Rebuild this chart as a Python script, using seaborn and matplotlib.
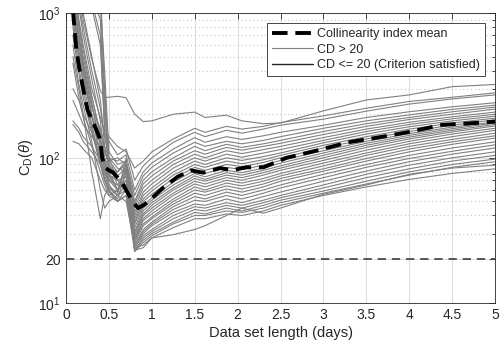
import numpy as np
import pandas as pd
import matplotlib
matplotlib.use("Agg")
import matplotlib.pyplot as plt
import seaborn as sns
from matplotlib.lines import Line2D
from matplotlib.ticker import FixedLocator, NullFormatter

X_DAYS = [0.08, 0.15, 0.2, 0.3, 0.4, 0.45, 0.5, 0.6, 0.7, 0.8,
          0.9, 1.0, 1.25, 1.5, 1.62, 1.87, 2.05, 2.3, 2.5, 3.0, 3.5, 4.0, 4.5, 5.0]

# one row per parameter subset, values of C_D(theta) at X_DAYS
CURVES = [
    [2500, 1400, 900, 480, 290, 262, 262, 266, 260, 200, 178, 180, 200, 207, 190, 197, 180, 172, 174, 211, 251, 272, 310, 321],
    [3000, 2000, 1500, 1100, 600, 160, 140, 120, 110, 85, 95, 110, 135, 160, 150, 165, 158, 165, 175, 195, 220, 245, 262, 281],
    [1800, 900, 600, 300, 190, 150, 130, 105, 115, 70, 88, 100, 128, 150, 140, 155, 148, 158, 168, 185, 210, 235, 255, 272],
    [1200, 650, 420, 220, 160, 120, 100, 95, 105, 60, 80, 92, 115, 138, 128, 140, 134, 142, 150, 168, 190, 208, 225, 240],
    [4000, 3000, 2500, 1500, 1200, 400, 110, 90, 95, 55, 75, 86, 108, 128, 120, 130, 125, 132, 140, 160, 180, 198, 216, 231],
    [900, 500, 350, 200, 130, 110, 95, 100, 90, 50, 70, 80, 100, 120, 112, 124, 118, 125, 132, 152, 172, 190, 208, 224],
    [250, 200, 170, 140, 120, 100, 85, 80, 95, 48, 66, 75, 95, 112, 106, 118, 113, 120, 126, 145, 165, 184, 200, 217],
    [1500, 800, 500, 260, 150, 110, 90, 75, 85, 45, 62, 70, 90, 106, 100, 112, 107, 114, 120, 138, 158, 176, 192, 207],
    [3000, 2200, 1600, 1200, 700, 150, 95, 80, 90, 42, 58, 66, 85, 100, 95, 106, 101, 108, 114, 132, 152, 170, 186, 200],
    [700, 380, 260, 150, 90, 80, 70, 80, 95, 40, 55, 62, 80, 95, 90, 100, 96, 102, 108, 127, 146, 164, 180, 194],
    [180, 160, 140, 120, 95, 80, 70, 65, 80, 38, 52, 59, 76, 90, 86, 95, 91, 97, 104, 122, 140, 158, 174, 188],
    [2200, 1200, 800, 400, 220, 140, 100, 70, 75, 36, 50, 56, 72, 86, 82, 90, 87, 93, 100, 117, 135, 152, 168, 183],
    [5000, 4000, 3500, 2500, 1500, 300, 100, 85, 80, 35, 47, 53, 68, 82, 78, 86, 83, 89, 96, 112, 130, 147, 163, 177],
    [1000, 550, 380, 190, 110, 90, 80, 60, 70, 33, 45, 51, 65, 78, 74, 82, 79, 85, 92, 108, 126, 143, 159, 174],
    [300, 250, 200, 150, 100, 85, 75, 70, 65, 31, 43, 49, 62, 75, 71, 79, 76, 82, 88, 104, 122, 139, 155, 170],
    [1400, 700, 450, 230, 130, 95, 70, 60, 75, 30, 41, 47, 60, 72, 69, 76, 73, 79, 85, 100, 118, 135, 151, 166],
    [2500, 1500, 1000, 500, 250, 120, 85, 70, 65, 29, 40, 45, 57, 69, 66, 73, 70, 76, 82, 96, 113, 130, 146, 160],
    [130, 125, 115, 100, 70, 60, 55, 60, 70, 28, 38, 43, 55, 66, 63, 70, 67, 72, 78, 92, 108, 125, 140, 155],
    [600, 320, 230, 130, 60, 45, 50, 55, 65, 27, 37, 41, 52, 63, 60, 67, 64, 69, 75, 88, 104, 120, 134, 148],
    [3500, 2500, 2000, 1300, 900, 200, 90, 65, 60, 27, 35, 39, 50, 60, 58, 64, 61, 66, 72, 84, 99, 115, 129, 142],
    [800, 420, 290, 160, 90, 70, 60, 50, 55, 26, 34, 38, 48, 57, 55, 61, 58, 63, 69, 81, 95, 110, 124, 137],
    [500, 300, 200, 80, 38, 55, 62, 55, 60, 25, 32, 36, 46, 54, 52, 58, 55, 60, 65, 77, 90, 104, 117, 129],
    [1600, 850, 550, 270, 140, 90, 65, 55, 50, 25, 31, 35, 44, 51, 50, 55, 52, 57, 62, 73, 86, 99, 111, 123],
    [2000, 1100, 700, 350, 180, 100, 75, 60, 70, 24, 30, 34, 42, 48, 47, 52, 49, 54, 58, 69, 81, 94, 106, 117],
    [450, 260, 190, 120, 80, 65, 55, 50, 60, 24, 29, 32, 40, 46, 45, 49, 47, 51, 55, 65, 77, 89, 100, 110],
    [1100, 600, 400, 200, 100, 70, 60, 52, 80, 23, 28, 31, 38, 44, 43, 47, 45, 49, 53, 62, 73, 84, 95, 104],
    [4500, 3500, 3000, 2000, 1300, 250, 80, 60, 90, 23, 27, 30, 36, 42, 41, 45, 43, 47, 51, 59, 69, 80, 90, 98],
    [170, 150, 130, 110, 90, 70, 58, 50, 55, 22.5, 26, 29, 35, 40, 40, 43, 42, 45, 49, 57, 66, 76, 86, 94],
    [1300, 700, 460, 240, 120, 80, 65, 55, 100, 24, 25, 28, 33, 38, 38, 41, 40, 43, 47, 55, 63, 71, 78, 84],
    [900, 480, 330, 170, 95, 75, 62, 58, 85, 23, 24, 28, 29.5, 32, 34, 40, 45, 41.5, 45, 56, 65, 77, 85, 89],
]

# dashed mean curve
MEAN_X = [0.08, 0.12, 0.15, 0.2, 0.25, 0.3, 0.35, 0.4, 0.42, 0.45, 0.5, 0.55, 0.65, 0.72,
          0.8, 0.84, 0.9, 0.96, 1.13, 1.3, 1.45, 1.6, 1.8, 1.93, 2.1, 2.3, 2.57, 2.94,
          3.29, 3.66, 4.0, 4.39, 4.77, 5.0]
MEAN_Y = [1050, 560, 430, 300, 215, 183, 158, 133, 101, 86, 82, 79, 68, 57,
          48, 45, 47, 50, 62, 74, 82, 79, 85, 82, 86, 86, 100, 113,
          128, 139, 151, 169, 174, 178]

CRITERION = 20
X_TICKS = [0, 0.5, 1, 1.5, 2, 2.5, 3, 3.5, 4, 4.5, 5]
X_TICK_LABELS = ["0", "0.5", "1", "1.5", "2", "2.5", "3", "3.5", "4", "4.5", "5"]
Y_TICKS = [10, 20, 100, 1000]
Y_TICK_LABELS = [r"$10^1$", "20", r"$10^2$", r"$10^3$"]

sns.set_theme(style="white")
plt.rcParams["font.family"] = ["Liberation Sans", "DejaVu Sans"]
plt.rcParams["mathtext.fontset"] = "custom"
plt.rcParams["mathtext.rm"] = "Liberation Sans"
plt.rcParams["mathtext.it"] = "Liberation Sans:italic"

rows = []
for i, vals in enumerate(CURVES):
    for x, v in zip(X_DAYS, vals):
        rows.append({"curve": i, "days": x, "cd": v})
df = pd.DataFrame(rows)

fig = plt.figure(figsize=(5.04, 3.51), dpi=100)
ax = fig.add_axes([0.131, 0.1376, 0.8512, 0.8254])

sns.lineplot(data=df, x="days", y="cd", units="curve", estimator=None,
             color="#808080", lw=0.8, ax=ax, legend=False)
sns.lineplot(x=MEAN_X, y=MEAN_Y, color="black", lw=2.8,
             linestyle=(0, (4, 2)), ax=ax, legend=False)
ax.axhline(CRITERION, color="#3c3c3c", lw=1.2, ls=(0, (5, 3.5)), zorder=3)

ax.set_yscale("log")
ax.set_xlim(0, 5)
ax.set_ylim(10, 1000)

ax.xaxis.set_major_locator(FixedLocator(X_TICKS))
ax.set_xticklabels(X_TICK_LABELS)
ax.yaxis.set_major_locator(FixedLocator(Y_TICKS))
ax.set_yticklabels(Y_TICK_LABELS)
minor = [30, 40, 50, 60, 70, 80, 90, 200, 300, 400, 500, 600, 700, 800, 900]
ax.yaxis.set_minor_locator(FixedLocator(minor))
ax.yaxis.set_minor_formatter(NullFormatter())

ax.grid(which="major", color="#dedede", lw=0.8, ls="-")
ax.grid(which="minor", axis="y", color="#c8c8c8", lw=0.8, ls=(0, (1, 2.5)))
ax.set_axisbelow(True)

ax.tick_params(which="both", direction="in", top=True, right=True,
               colors="#262626", labelsize=10, width=0.6)
ax.tick_params(which="major", length=4, pad=4)
ax.tick_params(which="minor", length=2)
for s in ax.spines.values():
    s.set_color("#262626")
    s.set_linewidth(0.6)

ax.set_xlabel("Data set length (days)", fontsize=10.5, color="#262626", labelpad=3)
ax.set_ylabel(r"C$_\mathrm{D}$($\theta$)", fontsize=10.5, color="#262626", labelpad=2)

handles = [
    Line2D([], [], color="black", lw=2.8, ls=(0, (4, 2))),
    Line2D([], [], color="#808080", lw=0.8),
    Line2D([], [], color="#262626", lw=1.0),
]
labels = ["Collinearity index mean", "CD > 20", "CD <= 20 (Criterion satisfied)"]
leg = ax.legend(handles, labels, loc="upper right", fontsize=9, frameon=True,
                fancybox=False, framealpha=1, edgecolor="#262626",
                handlelength=3.3, handletextpad=0.3, borderpad=0.4,
                labelspacing=0.3, borderaxespad=0.8)
leg.get_frame().set_linewidth(0.6)

fig.savefig("out.png", dpi=100)
